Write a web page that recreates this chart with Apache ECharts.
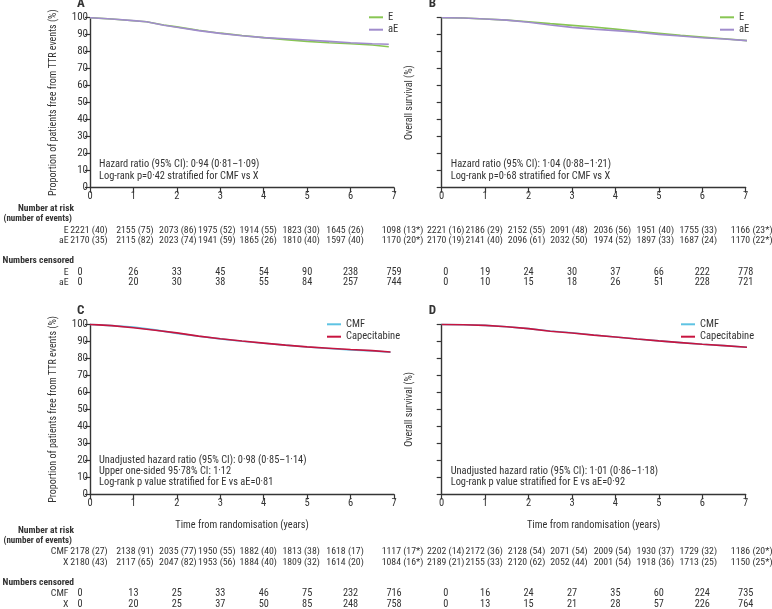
<!DOCTYPE html>
<html><head><meta charset="utf-8">
<script src="https://cdn.jsdelivr.net/npm/echarts@6/dist/echarts.min.js"></script>
<style>html,body{margin:0;padding:0;background:#fff}#c{width:772px;height:609px}</style>
</head><body><div id="c"></div>
<script>
const FONT = '"Liberation Sans Narrow","Roboto Condensed","DejaVu Sans Condensed","Liberation Sans",sans-serif';

// ---------- curve data ----------
const tA = [0,0.5,1,1.3,1.7,2,2.5,3,3.5,4,4.5,5,5.5,6,6.5,6.88];
const ttrE  = [100,99.2,98.2,97.6,95.7,94.6,92.6,90.9,89.5,88.3,87.1,86.1,85.3,84.7,83.9,82.9];
const ttrAE = [100,99.2,98.3,97.6,95.6,94.4,92.4,90.8,89.4,88.3,87.6,86.9,86.1,85.3,84.7,84.4];

const tB = [0,0.5,1,1.5,2,2.5,3,3.5,4,4.5,5,5.5,6,6.5,7.03];
const osE  = [100,99.8,99.2,98.6,97.6,96.5,95.5,94.5,93.3,92.0,90.8,89.6,88.6,87.6,86.5];
const osAE = [100,99.8,99.2,98.6,97.3,95.7,94.3,93.3,92.4,91.4,90.2,89.2,88.2,87.5,86.5];

const tC = [0,0.5,1,1.5,2,2.5,3,3.5,4,4.5,5,5.5,6,6.5,6.92];
const ttrCMF = [100,99.3,98.4,96.8,94.7,93.0,91.5,90.1,88.9,87.8,86.7,85.8,84.9,84.4,83.6];
const ttrX   = [100,99.3,98.0,96.6,95.0,93.1,91.6,90.2,89.0,87.8,86.8,86.0,85.2,84.6,83.8];

const tD = [0,0.5,1,1.5,2,2.5,3,3.5,4,4.5,5,5.5,6,6.5,7.03];
const osCMF = [100,99.8,99.4,98.6,97.5,96.1,95.1,93.8,92.6,91.4,90.3,89.3,88.3,87.5,86.6];
const osX   = [100,99.8,99.4,98.6,97.5,96.0,94.9,93.7,92.6,91.4,90.3,89.3,88.3,87.5,86.6];

// ---------- axis ticks ----------
const xTicks = [0,1,2,3,4,5,6,7];
const yTicks = [0,10,20,30,40,50,60,70,80,90,100];

// ---------- number at risk tables ----------
const riskA_E  = ["2221 (40)","2155 (75)","2073 (86)","1975 (52)","1914 (55)","1823 (30)","1645 (26)","1098 (13*)"];
const riskA_aE = ["2170 (35)","2115 (82)","2023 (74)","1941 (59)","1865 (26)","1810 (40)","1597 (40)","1170 (20*)"];
const censA_E  = [0,26,33,45,54,90,238,759];
const censA_aE = [0,20,30,38,55,84,257,744];

const riskB_E  = ["2221 (16)","2186 (29)","2152 (55)","2091 (48)","2036 (56)","1951 (40)","1755 (33)","1166 (23*)"];
const riskB_aE = ["2170 (19)","2141 (40)","2096 (61)","2032 (50)","1974 (52)","1897 (33)","1687 (24)","1170 (22*)"];
const censB_E  = [0,19,24,30,37,66,222,778];
const censB_aE = [0,10,15,18,26,51,228,721];

const riskC_CMF = ["2178 (27)","2138 (91)","2035 (77)","1950 (55)","1882 (40)","1813 (38)","1618 (17)","1117 (17*)"];
const riskC_X   = ["2180 (43)","2117 (65)","2047 (82)","1953 (56)","1884 (40)","1809 (32)","1614 (20)","1084 (16*)"];
const censC_CMF = [0,13,25,33,46,75,232,716];
const censC_X   = [0,20,25,37,50,85,248,758];

const riskD_CMF = ["2202 (14)","2172 (36)","2128 (54)","2071 (54)","2009 (54)","1930 (37)","1729 (32)","1186 (20*)"];
const riskD_X   = ["2189 (21)","2155 (33)","2120 (62)","2052 (44)","2001 (54)","1918 (36)","1713 (25)","1150 (25*)"];
const censD_CMF = [0,16,24,27,35,60,224,735];
const censD_X   = [0,13,15,21,28,57,226,764];

const statsA = ["Hazard ratio (95% CI): 0·94 (0·81–1·09)","Log-rank p=0·42 stratified for CMF vs X"];
const statsB = ["Hazard ratio (95% CI): 1·04 (0·88–1·21)","Log-rank p=0·68 stratified for CMF vs X"];
const statsC = ["Unadjusted hazard ratio (95% CI): 0·98 (0·85–1·14)","Upper one-sided 95·78% CI: 1·12","Log-rank p value stratified for E vs aE=0·81"];
const statsD = ["Unadjusted hazard ratio (95% CI): 1·01 (0·86–1·18)","Log-rank p value stratified for E vs aE=0·92"];

const panelLabels = ["A","B","C","D"];
const yTitleTTR = "Proportion of patients free from TTR events (%)";
const yTitleOS = "Overall survival (%)";
const xTitle = "Time from randomisation (years)";

// ---------- style ----------
const C_E = '#88c653', C_AE = '#a08ccc', C_CMF = '#5ec3e3', C_X = '#c8143f';
const AX = '#353535';
const grids = [
  {left:90, top:17.7, width:304, height:170},
  {left:441.7, top:17.7, width:304, height:170},
  {left:90, top:324.4, width:304, height:170},
  {left:441.7, top:324.4, width:304, height:170}
];

function mk(t, v){ return t.map((x,i)=>[x, v[i]]); }

const chart = echarts.init(document.getElementById('c'), null, {renderer:'canvas'});

const xAxes = grids.map((g,i)=>({
  gridIndex:i, type:'value', min:0, max:7, interval:1,
  axisLine:{show:true, lineStyle:{color:AX, width:1.4}},
  axisTick:{show:true, length:5, lineStyle:{color:AX, width:1.2}},
  axisLabel:{show:true, margin:3.5, color:'#333', fontSize:10.5, fontFamily:FONT},
  splitLine:{show:false},
  name: i>=2 ? xTitle : '', nameLocation:'middle', nameGap:26,
  nameTextStyle:{color:'#333', fontSize:10.3, fontFamily:FONT}
}));
const yAxes = grids.map((g,i)=>({
  gridIndex:i, type:'value', min:0, max:100, interval:10,
  axisLine:{show:true, onZero:false, lineStyle:{color:AX, width:1.4}},
  axisTick:{show:true, length:5, lineStyle:{color:AX, width:1.2}},
  axisLabel:{show: i%2===0, margin:2, color:'#333', fontSize:11, fontFamily:FONT},
  splitLine:{show:false},
  name: i%2===0 ? yTitleTTR : yTitleOS, nameLocation:'middle', nameGap: i%2===0 ? 32 : 27,
  nameTextStyle:{color:'#333', fontSize:10, fontFamily:FONT}
}));

function line(name, gi, data, color){
  return {name, type:'line', xAxisIndex:gi, yAxisIndex:gi, data, symbol:'none',
    lineStyle:{color, width:1.6}, itemStyle:{color}, smooth:false, animation:false, z:3};
}
const series = [
  line('E',0,mk(tA,ttrE),C_E), line('aE',0,mk(tA,ttrAE),C_AE),
  line('E',1,mk(tB,osE),C_E), line('aE',1,mk(tB,osAE),C_AE),
  line('CMF',2,mk(tC,ttrCMF),C_CMF), line('Capecitabine',2,mk(tC,ttrX),C_X),
  line('CMF',3,mk(tD,osCMF),C_CMF), line('Capecitabine',3,mk(tD,osX),C_X)
];

function lg(left, top, data){
  return {orient:'vertical', left, top, data, icon:'rect', itemWidth:14, itemHeight:2,
    itemGap:0, padding:0, selectedMode:false,
    textStyle:{fontSize:10.5, lineHeight:12.4, color:'#333', fontFamily:FONT}};
}

chart.setOption({
  animation:false,
  grid: grids,
  xAxis: xAxes, yAxis: yAxes, series,
  legend: [lg(369,11.1,['E','aE']), lg(720,11.1,['E','aE']), lg(327,318.1,['CMF','Capecitabine']), lg(681,318.1,['CMF','Capecitabine'])]
});

// ---------- annotations and tables ----------
const G = [];
function txt(x, y, s, opts){
  opts = opts || {};
  G.push({type:'text', x, y, silent:true, style:{text:String(s), fill:'#333', font:(opts.bold?'bold ':'')+(opts.size||9.8)+'px '+FONT,
    align:opts.align||'left', verticalAlign:'middle'}});
}
function px(gi, x, y){ return chart.convertToPixel({gridIndex:gi}, [x, y]); }

const tables = [
  {rows:[['E',riskA_E],['aE',riskA_aE]], cens:[['E',censA_E],['aE',censA_aE]], labels:true, base:21, stats:statsA},
  {rows:[['E',riskB_E],['aE',riskB_aE]], cens:[['E',censB_E],['aE',censB_aE]], labels:false, base:21, stats:statsB},
  {rows:[['CMF',riskC_CMF],['X',riskC_X]], cens:[['CMF',censC_CMF],['X',censC_X]], labels:true, base:36, stats:statsC},
  {rows:[['CMF',riskD_CMF],['X',riskD_X]], cens:[['CMF',censD_CMF],['X',censD_X]], labels:false, base:36, stats:statsD}
];
const riskOffL = [-1,1.5,1,-3.5,-5.5,-6,-5.5,8.5];
const riskOffR = [4,-1,-2,-3,-3,-3.5,-4,6];
const censOffL = [-10,0,0,0,0,0,0,0];
const censOffR = [4,0,0,0,0,0,0,0];
const rowDy = {nar:0, noe:10.5, r1:21.5, r2:32, nc:52, c1:63.5, c2:74};

tables.forEach((T, gi)=>{
  const o = px(gi, 0, 0);
  const top = px(gi, 0, 100);
  const y0 = o[1] + T.base;
  const left = T.labels;
  const rOff = left ? riskOffL : riskOffR;
  const cOff = left ? censOffL : censOffR;
  // panel letter
  txt(o[0]-13, top[1]-13.5, panelLabels[gi], {bold:true, size:13});
  if (left){
    txt(o[0]-16, y0+rowDy.nar, 'Number at risk', {bold:true, align:'right', size:9.5});
    txt(o[0]-18, y0+rowDy.noe, '(number of events)', {bold:true, align:'right', size:9});
    txt(o[0]-16, y0+rowDy.nc, 'Numbers censored', {bold:true, align:'right', size:9.5});
    txt(o[0]-21.5, y0+rowDy.r1, T.rows[0][0], {align:'right'});
    txt(o[0]-21.5, y0+rowDy.r2, T.rows[1][0], {align:'right'});
    txt(o[0]-21.5, y0+rowDy.c1, T.cens[0][0], {align:'right'});
    txt(o[0]-21.5, y0+rowDy.c2, T.cens[1][0], {align:'right'});
  }
  xTicks.forEach((xv, k)=>{
    const p = px(gi, xv, 0);
    txt(p[0]+rOff[k], y0+rowDy.r1, T.rows[0][1][k], {align:'center'});
    txt(p[0]+rOff[k], y0+rowDy.r2, T.rows[1][1][k], {align:'center'});
    txt(p[0]+cOff[k], y0+rowDy.c1, T.cens[0][1][k], {align:'center', size:10.3});
    txt(p[0]+cOff[k], y0+rowDy.c2, T.cens[1][1][k], {align:'center', size:10.3});
  });
  // stats text
  const n = T.stats.length;
  T.stats.forEach((s, k)=>{
    txt(o[0]+9, o[1]-11.7-(n-1-k)*11.2, s, {size:10.4});
  });
});
chart.setOption({graphic: G});
</script></body></html>
